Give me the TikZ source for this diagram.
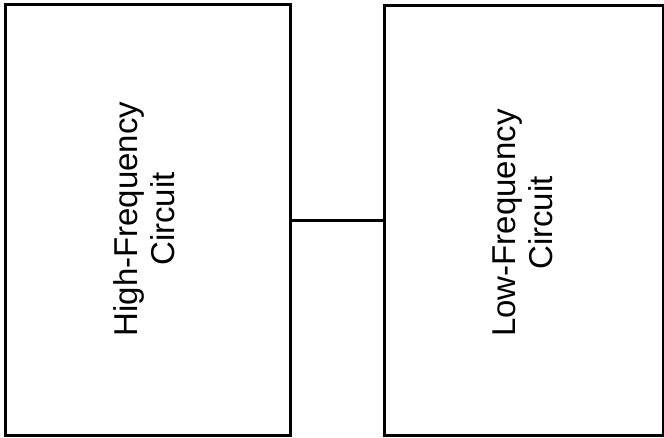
\documentclass[tikz,border=0pt]{standalone}
\usepackage{fontspec}
\setmainfont{Liberation Sans}
\begin{document}
\begin{tikzpicture}[x=1pt,y=-1pt,
  blockbox/.style={draw=black,line width=3pt,minimum width=285pt,minimum height=430pt,inner sep=0pt},
  blocklabel/.style={rotate=90,align=center,font=\fontsize{33}{37}\selectfont,inner sep=0pt},
  wire/.style={draw=black,line width=3pt}]
\useasboundingbox (0,0) rectangle (664,438);
\node[blockbox,minimum width=285pt] (hf) at (147.5,220) {};
\node[blockbox,minimum width=279pt] (lf) at (523.5,220.5) {};
\node[blocklabel] (hft) at (144,219) {High-Frequency\\Circuit};
\node[blocklabel] (lft) at (523,223) {Low-Frequency\\Circuit};
\draw[wire] (hf.east |- 0,221) -- (lf.west |- 0,221);
\end{tikzpicture}
\end{document}
